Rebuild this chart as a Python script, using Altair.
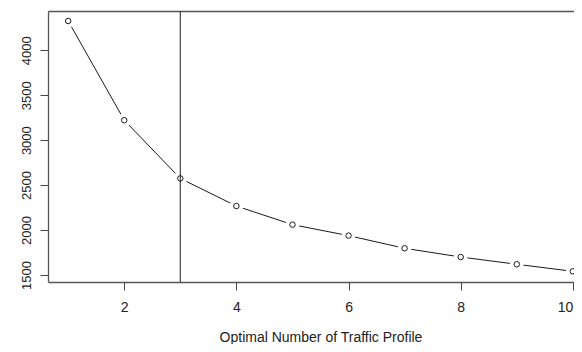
import altair as alt
import pandas as pd

# Data
k_values = [1, 2, 3, 4, 5, 6, 7, 8, 9, 10]
wss_values = [4326, 3222, 2574, 2267, 2060, 1938, 1797, 1700, 1619, 1541]
chosen_k = [3]
x_ticks = [2, 4, 6, 8, 10]
y_ticks = [1500, 2000, 2500, 3000, 3500, 4000]

df = pd.DataFrame({"k": k_values, "wss": wss_values})
vdf = pd.DataFrame({"k": chosen_k})

FONT = "Liberation Sans"
AX = "#444444"
TXT = "#222222"

x_scale = alt.Scale(domain=[0.64, 10.021], nice=False, zero=False)
y_scale = alt.Scale(domain=[1422, 4437], nice=False, zero=False)

x_axis = alt.Axis(
    values=x_ticks,
    format="d",
    title="Optimal Number of Traffic Profile",
    titleFont=FONT,
    titleFontSize=14,
    titleFontWeight="normal",
    titleColor=TXT,
    titleX=272.5,
    titleY=59,
    titleAlign="center",
    titleBaseline="alphabetic",
    labelFont=FONT,
    labelFontSize=14,
    labelColor=TXT,
    labelPadding=10,
    tickSize=8,
    tickColor=AX,
    tickWidth=1,
    domain=True,
    domainColor="#555555",
    domainWidth=1.3,
    grid=False,
    labelFlush=3,
    labelOverlap=False,
)
top_axis = alt.Axis(
    orient="top",
    labels=False,
    ticks=False,
    title=None,
    domain=True,
    domainColor="#555555",
    domainWidth=1.3,
    grid=False,
)
y_axis = alt.Axis(
    values=y_ticks,
    format="d",
    title=None,
    labelFont=FONT,
    labelFontSize=13,
    labelColor=TXT,
    labelAngle=270,
    labelAlign="center",
    labelBaseline="alphabetic",
    labelPadding=10,
    tickSize=8,
    tickColor=AX,
    tickWidth=1,
    domain=True,
    domainColor="#555555",
    domainWidth=1.3,
    grid=False,
    labelFlush=False,
    labelOverlap=False,
)

base = alt.Chart(df)
xk = alt.X("k:Q", scale=x_scale, axis=None)
yw = alt.Y("wss:Q", scale=y_scale, axis=None)

line = base.mark_line(color="#1a1a1a", strokeWidth=1).encode(
    x=alt.X("k:Q", scale=x_scale, axis=x_axis),
    y=alt.Y("wss:Q", scale=y_scale, axis=y_axis),
)
gaps = base.mark_point(
    filled=True, color="white", opacity=1, size=190, shape="circle", strokeWidth=0
).encode(x=alt.X("k:Q", scale=x_scale, axis=top_axis), y=yw)
vline = alt.Chart(vdf).mark_rule(color="#444444", strokeWidth=1.2).encode(x=xk)
pts = base.mark_point(
    filled=False, color="#1a1a1a", size=30, shape="circle", strokeWidth=1, opacity=1
).encode(x=xk, y=yw)

chart = (
    alt.layer(line, gaps, vline, pts)
    .resolve_axis(x="independent", y="independent")
    .properties(
        width=526,
        height=271,
        autosize=alt.AutoSizeParams(type="none"),
        padding={"left": 40, "top": 3, "right": 0, "bottom": 62},
        background="white",
    )
    .configure_view(stroke=None)
)

chart.save("out.html", embed_options={"renderer": "svg", "actions": False})
